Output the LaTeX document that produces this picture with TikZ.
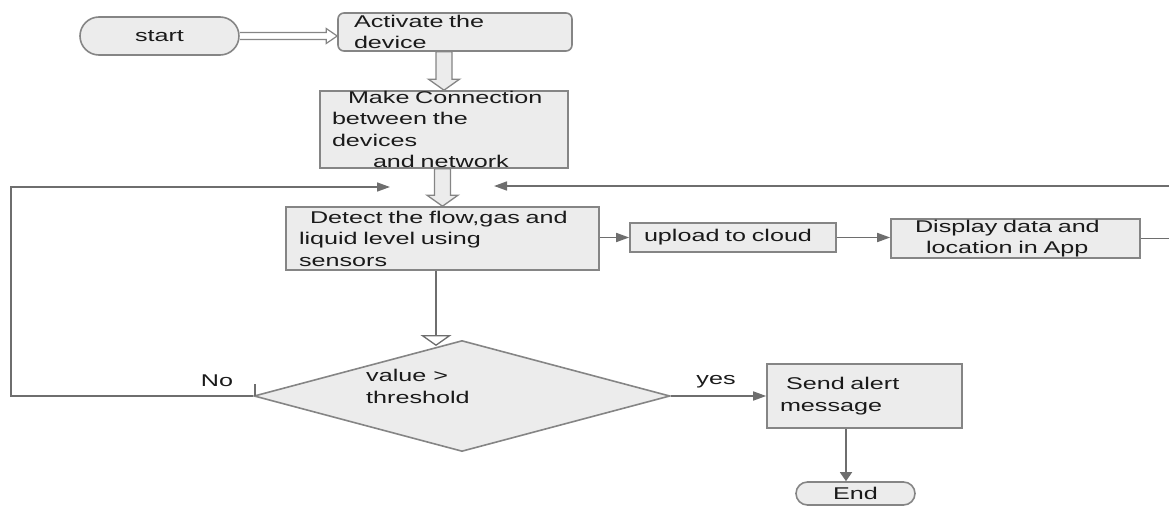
\documentclass[tikz,border=0pt]{standalone}
\usepackage{fontspec}
\newfontfamily\lbl[FakeStretch=1.48]{Liberation Sans}
\usetikzlibrary{arrows.meta,calc,shapes.geometric}
\definecolor{boxfill}{HTML}{ECECEC}
\definecolor{boxline}{HTML}{858585}
\definecolor{wire}{HTML}{6E6E6E}
\definecolor{ink}{HTML}{1A1A1A}

% hollow block arrow pointing down, from the bottom of #1 to the top of #2
\newcommand\fatdown[2]{%
  \path[draw=boxline, fill=boxfill, line width=1.3pt]
    let \p1=(#2.north), \p2=(#1.south) in
    (\x1-8pt,\y2) -- (\x1+8pt,\y2) -- (\x1+8pt,\y1+11pt) -- (\x1+15.5pt,\y1+11pt)
    -- (\x1,\y1) -- (\x1-15.5pt,\y1+11pt) -- (\x1-8pt,\y1+11pt) -- cycle;}

\begin{document}
\begin{tikzpicture}[x=1pt,y=-1pt,
  every node/.style={font=\lbl\fontsize{17}{21.5}\selectfont, text=ink},
  box/.style={draw=boxline, fill=boxfill, line width=1.6pt, inner xsep=0pt,
    inner ysep=0pt, align=left},
  pill/.style={draw=boxline, fill=boxfill, line width=1.6pt, inner sep=0pt,
    align=center},
  wireline/.style={draw=wire, line width=1.6pt},
  harrow/.style={wireline, -{Triangle[length=13pt,width=9pt]}},
  varrow/.style={wireline, -{Triangle[length=9pt,width=12pt]}}]

\useasboundingbox (0,0) rectangle (1169,506);
\clip (0,0) rectangle (1169,506);

% process steps
\node[pill, minimum width=159pt, minimum height=38pt, rounded corners=19pt]
  (start) at (159.5,36) {start};
\node[box, text width=234pt, minimum height=38pt, rounded corners=6pt]
  (act) at (455,32) {\hspace*{16pt}Activate the\\\hspace*{16pt}device};
\node[box, text width=248pt, minimum height=77pt]
  (make) at (444,129.5) {\hspace*{28pt}Make Connection\\\hspace*{12pt}between the\\\hspace*{12pt}devices\\\hspace*{53pt}and network};
\node[box, text width=313pt, minimum height=63pt]
  (detect) at (442.5,238.5) {\hspace*{24pt}Detect the flow,gas and\\\hspace*{13pt}liquid level using\\\hspace*{13pt}sensors};
\node[box, text width=206pt, minimum height=29pt]
  (upload) at (733,237.5) {\hspace*{14pt}upload to cloud};
\node[box, text width=249pt, minimum height=39pt]
  (disp) at (1015.5,238.5) {\hspace*{24pt}Display data and\\\hspace*{35pt}location in App};
\node[diamond, draw=boxline, fill=boxfill, line width=1.6pt, inner sep=0pt,
  minimum width=416pt, minimum height=111pt] (dec) at (462,396) {};
\node[anchor=west, align=left, inner sep=0pt] (dectext) at (366,386.5) {value >\\threshold};
\node[box, text width=195pt, minimum height=64pt]
  (alert) at (864.5,396) {\hspace*{19pt}Send alert\\\hspace*{13pt}message};
\node[pill, minimum width=119pt, minimum height=23pt, rounded corners=11.5pt]
  (endn) at (855.5,493.5) {End};

% outline arrow from start to the first step
\path[draw=boxline, fill=white, line width=1.2pt]
  let \p1=(start.east), \p2=(act.west) in
  (\x1,\y1+3.5pt) -- (\x2-11pt,\y1+3.5pt) -- (\x2-11pt,\y1+7.5pt) -- (\x2,\y1)
  -- (\x2-11pt,\y1-7.5pt) -- (\x2-11pt,\y1-3.5pt) -- (\x1,\y1-3.5pt);

% block arrows down the main column
\fatdown{act}{make}
\fatdown{make}{detect}

% free ends and offsets
\coordinate (dx) at (436,0);
\coordinate (dtip) at (436,346);
\coordinate (lin) at (390,187);
\coordinate (rin) at (494,186);
\coordinate (ax) at (846,0);

% detect -> decision
\draw[wireline, -{Triangle[open, length=11pt, width=31pt, fill=white, line width=1.3pt]}]
  (detect.south -| dx) -- (dtip);

% side branch
\draw[harrow] (detect.east |- upload.west) -- (upload.west);
\draw[harrow] (upload.east) -- (disp.west |- upload.east);

% feedback loops
\draw[harrow] (dec.west) -- (11,396) -- (11,187) -- (lin);
\draw[wireline] ([xshift=2pt]dec.west) -- ++(0pt,12pt);
\draw[harrow] (disp.east) -- (1190,238.5) -- (1190,186) -- (rin);

% decision outcomes
\draw[harrow] (dec.east) -- (alert.west);
\draw[varrow] (alert.south -| ax) -- (endn.north -| ax);

\node (nolbl) at (217,381) {No};
\node (yeslbl) at (716,382) {yes};
\end{tikzpicture}
\end{document}
